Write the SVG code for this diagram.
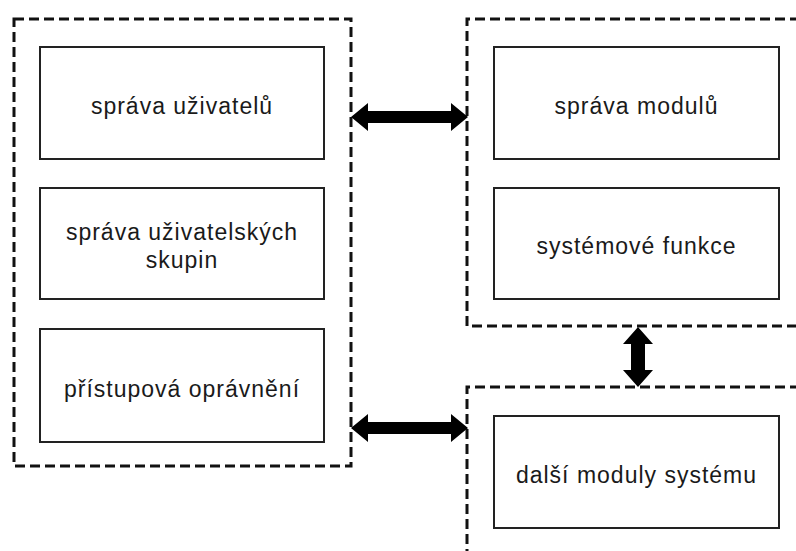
<svg xmlns="http://www.w3.org/2000/svg" width="796" height="551" viewBox="0 0 796 551">
  <style>
    .group { fill: none; stroke: #111; stroke-width: 3; stroke-dasharray: 10 5; }
    .box { fill: #fff; stroke: #222; stroke-width: 2; }
    .label { font-family: "Liberation Sans", Arial, sans-serif; font-size: 23px; letter-spacing: 1px; fill: #1a1a1a; text-anchor: middle; }
    .arrow { fill: #000; stroke: none; }
  </style>
  <rect width="796" height="551" fill="#fff"/>

  <!-- dashed module groups -->
  <g id="group-users">
    <rect class="group" x="14" y="19" width="337" height="447"/>
  </g>
  <g id="group-system">
    <path class="group" d="M800 19 H467 V326 H800"/>
  </g>
  <g id="group-other">
    <path class="group" d="M800 387 H467 V560"/>
  </g>

  <!-- nodes -->
  <g id="node-users">
    <rect class="box" x="40" y="47" width="284" height="112"/>
    <text class="label" x="182" y="114">správa uživatelů</text>
  </g>
  <g id="node-user-groups">
    <rect class="box" x="40" y="188" width="284" height="111"/>
    <text class="label" x="182" y="240">správa uživatelských</text>
    <text class="label" x="182" y="268">skupin</text>
  </g>
  <g id="node-permissions">
    <rect class="box" x="40" y="329" width="284" height="113"/>
    <text class="label" x="182" y="397">přístupová oprávnění</text>
  </g>
  <g id="node-modules">
    <rect class="box" x="494" y="47" width="285" height="112"/>
    <text class="label" x="636.5" y="114">správa modulů</text>
  </g>
  <g id="node-system-functions">
    <rect class="box" x="494" y="188" width="285" height="111"/>
    <text class="label" x="636.5" y="254">systémové funkce</text>
  </g>
  <g id="node-other-modules">
    <rect class="box" x="494" y="416" width="285" height="112"/>
    <text class="label" x="636.5" y="483">další moduly systému</text>
  </g>

  <!-- connectors: double-headed block arrows -->
  <g id="connectors">
    <polygon class="arrow" points="351,117 368,103 368,111 451,111 451,103 468,117 451,131 451,123 368,123 368,131"/>
    <polygon class="arrow" points="351,428 368,414 368,422 451,422 451,414 468,428 451,442 451,434 368,434 368,442"/>
    <polygon class="arrow" points="638,327 653,344 645,344 645,370 653,370 638,387 623,370 631,370 631,344 623,344"/>
  </g>
</svg>
